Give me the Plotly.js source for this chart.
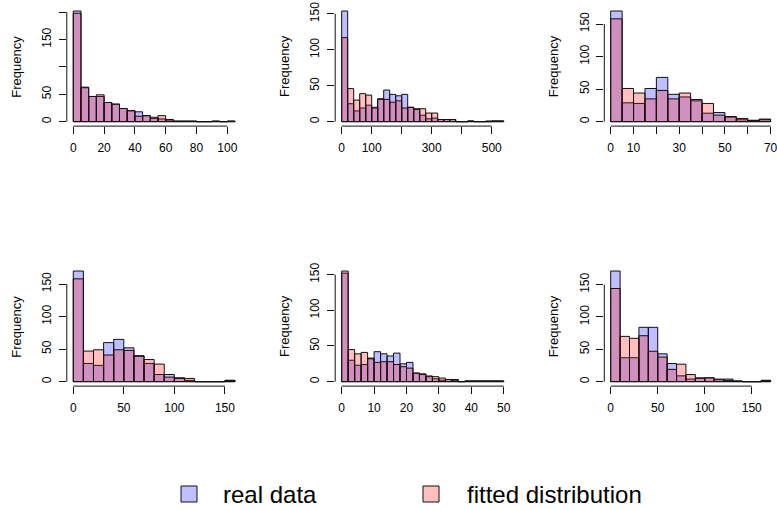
<!DOCTYPE html>
<html>
<head>
<meta charset="utf-8">
<script src="https://cdn.plot.ly/plotly-3.0.1.min.js"></script>
<style>
  html, body { margin: 0; padding: 0; background: #ffffff; }
  #chart { width: 777px; height: 510px; }
</style>
</head>
<body>
<div id="chart"></div>
<script>
// ---- histogram counts (bins start at 0, fixed width per panel) ----
const binWidth1 = 5;
const real1   = [202, 63, 46, 46, 35, 32, 24, 20, 18, 11, 6, 5, 3, 1, 1, 1, 0, 0, 1, 0, 1];
const fitted1 = [198, 62, 46, 49, 35, 32, 24, 20, 10, 11, 8, 11, 4, 1, 1, 1, 0, 0, 1, 0, 1];

const binWidth2 = 20;
const real2   = [154, 25, 15, 19, 23, 19, 31, 44, 38, 36, 38, 20, 17, 9, 4, 5, 3, 3, 3, 0, 0, 1, 0, 0, 1, 1, 1];
const fitted2 = [117, 46, 30, 39, 37, 20, 32, 31, 27, 29, 19, 20, 18, 18, 12, 12, 3, 3, 3, 0, 0, 1, 0, 0, 0, 1, 1];

const binWidth3 = 5;
const real3   = [170, 29, 28, 51, 68, 42, 38, 32, 13, 14, 7, 3, 2, 4];
const fitted3 = [158, 51, 44, 35, 48, 35, 44, 34, 28, 10, 8, 5, 2, 3];

const binWidth4 = 10;
const real4   = [170, 28, 25, 60, 65, 52, 40, 28, 11, 11, 6, 2, 0, 0, 0, 2];
const fitted4 = [158, 47, 49, 41, 49, 48, 39, 34, 27, 7, 5, 5, 0, 0, 0, 2];

const binWidth5 = 2;
const real5   = [152, 30, 23, 24, 33, 42, 39, 36, 40, 25, 27, 12, 10, 7, 4, 2, 3, 2, 0, 1, 1, 1, 1, 1, 1];
const fitted5 = [155, 45, 39, 41, 32, 27, 28, 28, 24, 21, 19, 12, 11, 8, 7, 5, 3, 3, 0, 1, 1, 1, 1, 1, 1];

const binWidth6 = 10;
const real6   = [171, 37, 37, 84, 84, 43, 28, 9, 4, 5, 6, 3, 4, 1, 0, 0, 2];
const fitted6 = [144, 70, 67, 71, 47, 38, 19, 27, 11, 6, 6, 4, 2, 1, 0, 0, 2];

// ---- tick marks and their labels (blank = tick without label) ----
const xTicks1 = [0, 20, 40, 60, 80, 100];
const xText1  = ['0', '20', '40', '60', '80', '100'];
const xTicks2 = [0, 100, 200, 300, 400, 500];
const xText2  = ['0', '100', '', '300', '', '500'];
const xTicks3 = [0, 10, 20, 30, 40, 50, 60, 70];
const xText3  = ['0', '10', '', '30', '', '50', '', '70'];
const xTicks4 = [0, 50, 100, 150];
const xText4  = ['0', '50', '100', '150'];
const xTicks5 = [0, 10, 20, 30, 40, 50];
const xText5  = ['0', '10', '20', '30', '40', '50'];
const xTicks6 = [0, 50, 100, 150];
const xText6  = ['0', '50', '100', '150'];

const yTicks1 = [0, 50, 100, 150, 200];
const yText1  = ['0', '50', '', '150', ''];
const yTicksStd = [0, 50, 100, 150];
const yTextStd  = ['0', '50', '100', '150'];

const legendLabels = ['real data', 'fitted distribution'];
const yTitle = 'Frequency';

// ---- styling ----
const W = 777, H = 510;
const FONT = "'Liberation Sans', Arial, sans-serif";
const BLUE = 'rgba(0,0,255,0.25)';
const RED  = 'rgba(255,0,0,0.25)';
const EDGE = '#111111';

// plot regions in pixels
const colBox = [[66.8, 241.5], [335.2, 510.2], [604.3, 777]];
const rowBox = [[6.6, 126.1], [266.6, 386.1]];

const panels = [
  { w: binWidth1, real: real1, fit: fitted1, xt: xTicks1, xl: xText1, yt: yTicks1,   yl: yText1,   col: 0, row: 0 },
  { w: binWidth2, real: real2, fit: fitted2, xt: xTicks2, xl: xText2, yt: yTicksStd, yl: yTextStd, col: 1, row: 0 },
  { w: binWidth3, real: real3, fit: fitted3, xt: xTicks3, xl: xText3, yt: yTicksStd, yl: yTextStd, col: 2, row: 0 },
  { w: binWidth4, real: real4, fit: fitted4, xt: xTicks4, xl: xText4, yt: yTicksStd, yl: yTextStd, col: 0, row: 1 },
  { w: binWidth5, real: real5, fit: fitted5, xt: xTicks5, xl: xText5, yt: yTicksStd, yl: yTextStd, col: 1, row: 1 },
  { w: binWidth6, real: real6, fit: fitted6, xt: xTicks6, xl: xText6, yt: yTicksStd, yl: yTextStd, col: 2, row: 1 }
];

const data = [];
const layout = {
  width: W, height: H,
  margin: { l: 0, r: 0, t: 0, b: 0 },
  paper_bgcolor: '#ffffff',
  plot_bgcolor: 'rgba(0,0,0,0)',
  barmode: 'overlay',
  showlegend: false,
  font: { family: FONT, size: 12, color: '#000000' },
  shapes: [],
  annotations: []
};

panels.forEach((p, i) => {
  const n = i + 1;
  const xa = n === 1 ? 'x' : 'x' + n;
  const ya = n === 1 ? 'y' : 'y' + n;
  const centers = p.real.map((_, k) => k * p.w + p.w / 2);
  const xMax = p.real.length * p.w;
  const yMax = Math.max(...p.real, ...p.fit);

  [[p.real, BLUE], [p.fit, RED]].forEach(([counts, fill]) => {
    data.push({
      type: 'bar', x: centers, y: counts, width: p.w,
      xaxis: xa, yaxis: ya,
      marker: { color: fill, line: { color: EDGE, width: 1 } },
      hoverinfo: 'skip', showlegend: false
    });
  });

  const [l, r] = colBox[p.col];
  const [t, b] = rowBox[p.row];
  const common = {
    tickmode: 'array', ticks: 'outside', ticklen: 7, tickwidth: 1, tickcolor: EDGE,
    showgrid: false, zeroline: false, showline: false, fixedrange: true,
    ticklabeloverflow: 'allow',
    tickfont: { family: FONT, size: 12, color: '#000000' }
  };
  layout['xaxis' + (n === 1 ? '' : n)] = Object.assign({}, common, {
    domain: [l / W, r / W], anchor: ya,
    range: [-0.04 * xMax, 1.04 * xMax],
    tickvals: p.xt, ticktext: p.xl, ticklabelstandoff: 3
  });
  layout['yaxis' + (n === 1 ? '' : n)] = Object.assign({}, common, {
    domain: [1 - b / H, 1 - t / H], anchor: xa,
    range: [-0.04 * yMax, 1.04 * yMax],
    tickvals: p.yt, ticktext: p.yl, tickangle: -90, ticklabelstandoff: 3
  });

  // axis lines spanning only the tick range
  layout.shapes.push({
    type: 'line', xref: xa, yref: ya + ' domain',
    x0: p.xt[0], x1: p.xt[p.xt.length - 1], y0: 0, y1: 0,
    line: { color: EDGE, width: 1 }
  });
  layout.shapes.push({
    type: 'line', xref: xa + ' domain', yref: ya,
    x0: 0, x1: 0, y0: p.yt[0], y1: p.yt[p.yt.length - 1],
    line: { color: EDGE, width: 1 }
  });

  layout.annotations.push({
    text: yTitle, xref: 'paper', yref: 'paper',
    x: (l - 50.5) / W, y: 1 - ((t + b) / 2) / H,
    xanchor: 'center', yanchor: 'middle', textangle: -90, showarrow: false,
    font: { family: FONT, size: 13, color: '#000000' }
  });
});

// legend row along the bottom
const legendItems = [
  { box: [181, 197], textX: 221, fill: BLUE, label: legendLabels[0] },
  { box: [423, 439], textX: 465, fill: RED,  label: legendLabels[1] }
];
const legendMid = 494;
legendItems.forEach(item => {
  layout.shapes.push({
    type: 'rect', xref: 'paper', yref: 'paper',
    x0: item.box[0] / W, x1: item.box[1] / W,
    y0: 1 - (legendMid + 8) / H, y1: 1 - (legendMid - 8) / H,
    fillcolor: item.fill, line: { color: EDGE, width: 1 }
  });
  layout.annotations.push({
    text: item.label, xref: 'paper', yref: 'paper',
    x: item.textX / W, y: 1 - legendMid / H,
    xanchor: 'left', yanchor: 'middle', showarrow: false,
    font: { family: FONT, size: 24, color: '#000000' }
  });
});

Plotly.newPlot('chart', data, layout, { staticPlot: true, displayModeBar: false });
</script>
</body>
</html>
